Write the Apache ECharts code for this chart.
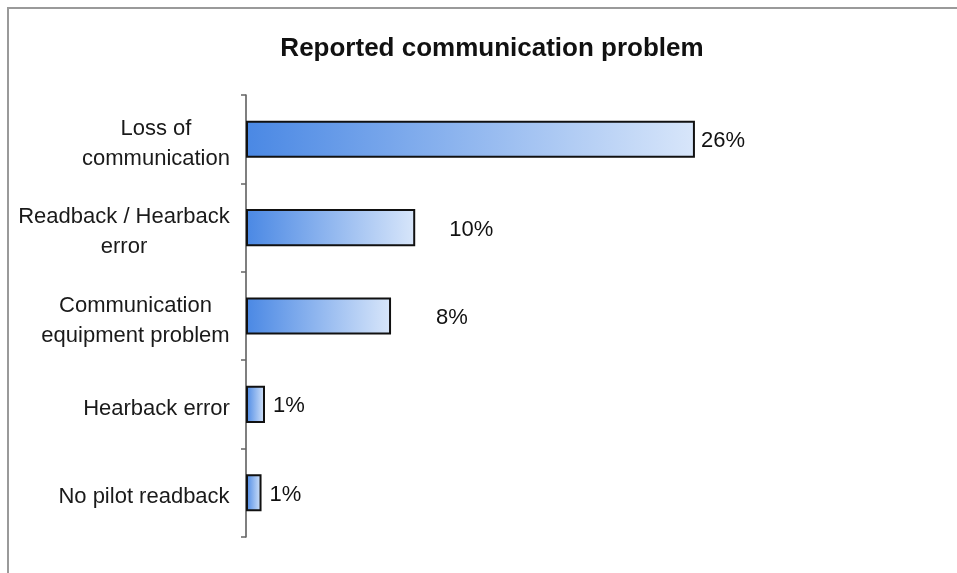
<!DOCTYPE html>
<html>
<head>
<meta charset="utf-8">
<script src="https://cdn.jsdelivr.net/npm/echarts@6/dist/echarts.min.js"></script>
<style>
  html, body { margin: 0; padding: 0; background: #fff; }
  #chart { width: 957px; height: 573px; }
</style>
</head>
<body>
<div id="chart"></div>
<script>
// ---- data ----
const titleText = 'Reported communication problem';
const categories = [
  'Loss of\ncommunication',
  'Readback / Hearback\nerror',
  'Communication\nequipment problem',
  'Hearback error',
  'No pilot readback'
];
// bar lengths (labels show the rounded percent)
const values = [26, 9.8, 8.4, 1.1, 0.9];
const valueLabels = ['26%', '10%', '8%', '1%', '1%'];

// ---- styling ----
const labelGaps = [6, 34, 45, 8, 8];
const FONT = '"Liberation Sans", Arial, sans-serif';
const LABEL_SIZE = 22;

function measure(text) {
  const c = document.createElement('canvas').getContext('2d');
  c.font = LABEL_SIZE + 'px ' + FONT;
  return Math.ceil(c.measureText(text).width);
}
const rich = {};
categories.forEach((cat, i) => {
  const lines = cat.split('\n');
  const w = Math.max(...lines.map(measure));
  rich['c' + i] = { width: w, align: 'center', fontSize: LABEL_SIZE, fontFamily: FONT, color: '#1a1a1a', lineHeight: 30 };
});

const chart = echarts.init(document.getElementById('chart'), null, { renderer: 'canvas' });
chart.setOption({
  animation: false,
  backgroundColor: '#ffffff',
  title: {
    text: titleText,
    left: 487,
    textAlign: 'center',
    top: 31,
    textStyle: { fontFamily: FONT, fontSize: 26, fontWeight: 'bold', color: '#111' }
  },
  graphic: [{
    type: 'rect',
    silent: true,
    shape: { x: 8, y: 8, width: 1200, height: 1000 },
    style: { fill: 'none', stroke: '#9a9a9a', lineWidth: 2 }
  }],
  grid: { left: 246, top: 95, width: 518, height: 442, containLabel: false },
  xAxis: {
    type: 'value',
    min: 0,
    max: 30,
    show: false
  },
  yAxis: {
    type: 'category',
    inverse: true,
    data: categories,
    axisLine: { show: true, lineStyle: { color: '#555', width: 1.5 } },
    axisTick: { show: true, inside: false, length: 5, lineStyle: { color: '#666', width: 1.5 } },
    splitLine: { show: false },
    axisLabel: {
      margin: 16,
      fontFamily: FONT,
      fontSize: LABEL_SIZE,
      color: '#1a1a1a',
      lineHeight: 30,
      padding: [9, 0, 0, 0],
      formatter: (val, idx) => val.split('\n').map(l => '{c' + idx + '|' + l + '}').join('\n'),
      rich: rich
    }
  },
  series: [{
    type: 'bar',
    barWidth: '42%',
    data: values.map((v, i) => ({
      value: v,
      label: { distance: labelGaps[i] }
    })),
    itemStyle: {
      borderColor: '#111',
      borderWidth: 2,
      color: new echarts.graphic.LinearGradient(0, 0, 1, 0, [
        { offset: 0, color: '#4a88e4' },
        { offset: 1, color: '#d8e6fa' }
      ])
    },
    label: {
      show: true,
      position: 'right',
      offset: [0, 2],
      formatter: p => valueLabels[p.dataIndex],
      fontFamily: FONT,
      fontSize: LABEL_SIZE,
      color: '#111'
    }
  }]
});
</script>
</body>
</html>
